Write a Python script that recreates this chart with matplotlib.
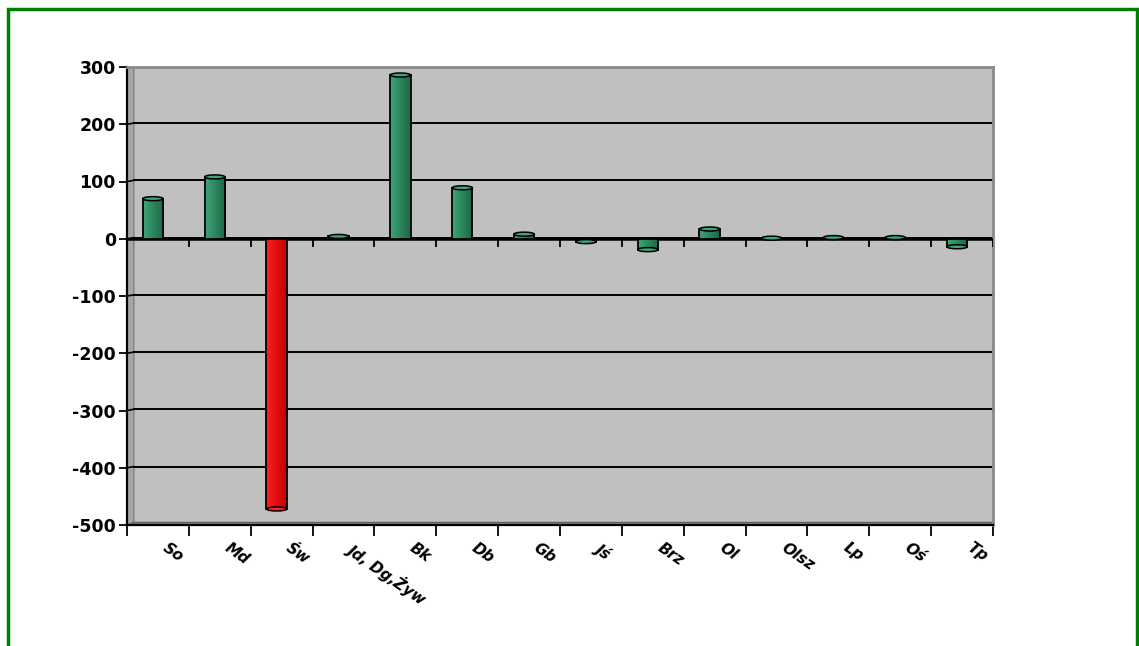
import matplotlib.pyplot as plt
import numpy as np
from matplotlib.patches import Rectangle, Ellipse, Polygon
from matplotlib.colors import LinearSegmentedColormap

# species groups and change values
categories = ['So', 'Md', 'Św', 'Jd, Dg,Żyw', 'Bk', 'Db', 'Gb', 'Jś',
              'Brz', 'Ol', 'Olsz', 'Lp', 'Oś', 'Tp']
values = [70, 108, -472, 4, 286, 89, 8, -5, -19, 17, 1, 2, 2, -14]
y_ticks = [-500, -400, -300, -200, -100, 0, 100, 200, 300]

green_light, green_dark = '#3da676', '#1c6644'
red_light, red_dark = '#ff2020', '#c00000'

fig = plt.figure(figsize=(11.39, 6.46), dpi=100)
ax = fig.add_axes([127 / 1139, 1 - 525 / 646, 866 / 1139, 458 / 646])
ax.set_facecolor('#c0c0c0')

n = len(categories)
ax.set_xlim(0, n)
ax.set_ylim(y_ticks[0], y_ticks[-1])

# depth of the pseudo-3D wall, in data units
dx, dy = 0.11, 5

# side wall and floor
ax.add_patch(Polygon([(0, y_ticks[0]), (dx, y_ticks[0] + dy), (dx, y_ticks[-1]),
                      (0, y_ticks[-1])], closed=True, facecolor='#a6a6a6',
                     edgecolor='#808080', lw=1, zorder=1))
ax.add_patch(Polygon([(0, y_ticks[0]), (n, y_ticks[0]), (n, y_ticks[0] + dy),
                      (dx, y_ticks[0] + dy)], closed=True, facecolor='#8c8c8c',
                     edgecolor='#606060', lw=1, zorder=1))

for y in y_ticks[1:-1]:
    ax.plot([dx, n], [y + dy * 0.4, y + dy * 0.4], color='black', lw=1.4, zorder=1)
    ax.plot([0, dx], [y, y + dy * 0.4], color='black', lw=1.2, zorder=1)

# category axis crossing at zero, with its own tick marks
ax.axhline(0, color='black', lw=1.8, zorder=3)
for k in range(1, n + 1):
    ax.plot([k, k], [0, -14], color='black', lw=1.3, zorder=3,
            solid_capstyle='butt')

bar_w = 0.33
for i, v in enumerate(values):
    x0 = i + 0.5 - bar_w / 2 - 0.08
    lo, hi = min(0, v), max(0, v)
    light, dark = (red_light, red_dark) if v < -100 else (green_light, green_dark)
    bar = Rectangle((x0, lo), bar_w, hi - lo, facecolor='none',
                    edgecolor='black', lw=1.3, zorder=5)
    ax.add_patch(bar)
    grad = np.linspace(0, 1, 64).reshape(1, -1)
    cmap = LinearSegmentedColormap.from_list('g', [light, dark])
    img = ax.imshow(grad, extent=(x0, x0 + bar_w, lo, hi), aspect='auto',
                    cmap=cmap, zorder=4, interpolation='bilinear')
    img.set_clip_path(bar)
    # top cap
    cap = Ellipse((x0 + bar_w / 2, v), bar_w, 7, facecolor=light,
                  edgecolor='black', lw=1.1, zorder=6)
    ax.add_patch(cap)

ax.set_yticks(y_ticks)
ax.set_yticklabels([str(t) for t in y_ticks], fontsize=12.5, fontweight='bold')
ax.tick_params(axis='y', direction='out', length=6, width=1.3, pad=2)

ax.set_xticks(np.arange(0, n + 1))
ax.set_xticklabels([])
ax.tick_params(axis='x', direction='out', length=8, width=1.3)
for i, name in enumerate(categories):
    ax.text(i + 0.6, -537, name, rotation=-35, rotation_mode='anchor',
            ha='left', va='center', fontsize=11, fontweight='bold',
            fontstyle='italic', clip_on=False)

for side in ['left', 'bottom']:
    ax.spines[side].set_linewidth(1.6)
    ax.spines[side].set_color('black')
for side in ['top', 'right']:
    ax.spines[side].set_linewidth(2)
    ax.spines[side].set_color('#8a8a8a')

# green frame around the figure
frame = Rectangle((8 / 1139, -0.1), 1129 / 1139, 1.1 - 9 / 646,
                  transform=fig.transFigure, fill=False,
                  edgecolor='#008000', lw=2.5, clip_on=False)
fig.patches.append(frame)

fig.savefig('out.png', dpi=100)
